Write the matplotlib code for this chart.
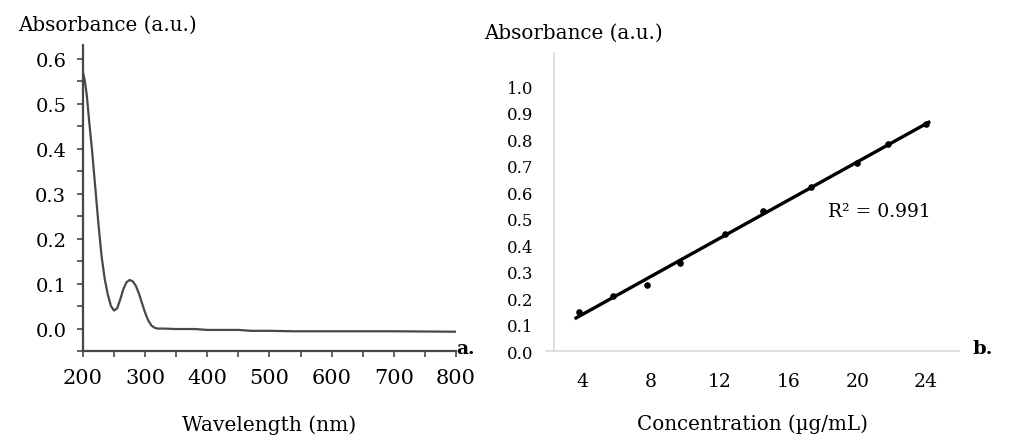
import numpy as np
import matplotlib
matplotlib.use("Agg")
from matplotlib import pyplot as plt
from matplotlib.ticker import MultipleLocator, FormatStrFormatter

# panel a: UV-vis spectrum
wavelength = [200, 203, 206, 210, 215, 220, 225, 230, 235, 240, 245, 250,
              255, 260, 265, 270, 275, 280, 285, 290, 295, 300, 305, 310,
              315, 320, 330, 350, 380, 400, 450, 470, 500, 540, 600, 700, 800]
absorbance = [0.57, 0.55, 0.52, 0.46, 0.39, 0.31, 0.23, 0.16, 0.11, 0.075,
              0.05, 0.04, 0.045, 0.065, 0.088, 0.103, 0.108, 0.105, 0.095,
              0.078, 0.056, 0.035, 0.018, 0.007, 0.002, 0.0, 0.0, -0.001,
              -0.001, -0.003, -0.003, -0.005, -0.005, -0.006, -0.006,
              -0.006, -0.007]

# panel b: calibration curve
concentration = [3.8, 5.8, 7.8, 9.7, 12.3, 14.5, 17.3, 20.0, 21.8, 24.0]
cal_absorbance = [0.146, 0.206, 0.248, 0.334, 0.442, 0.527, 0.620, 0.711,
                  0.780, 0.857]
r_squared = 0.991

plt.rcParams["font.family"] = ["DejaVu Serif"]
fig = plt.figure(figsize=(10.12, 4.39), dpi=100)

# ---- panel a ----
ax1 = fig.add_axes([0.082, 0.198, 0.3686, 0.697])
ax1.plot(wavelength, absorbance, color="#484848", lw=1.6)
ax1.set_xlim(200, 800)
ax1.set_ylim(-0.05, 0.63)
ax1.spines[["top", "right"]].set_visible(False)
for s in ["left", "bottom"]:
    ax1.spines[s].set_color("#484848")
    ax1.spines[s].set_linewidth(1.6)
ax1.xaxis.set_major_locator(MultipleLocator(100))
ax1.xaxis.set_minor_locator(MultipleLocator(50))
ax1.set_yticks([0.0, 0.1, 0.2, 0.3, 0.4, 0.5, 0.6])
ax1.yaxis.set_minor_locator(MultipleLocator(0.05))
ax1.yaxis.set_major_formatter(FormatStrFormatter("%.1f"))
ax1.tick_params(which="both", length=4, width=1.2, color="#484848")
ax1.tick_params(axis="y", labelsize=14, pad=8)
ax1.tick_params(axis="x", labelsize=15, pad=8)
fig.text(0.018, 0.943, "Absorbance (a.u.)", fontsize=14.3, ha="left",
         va="center")
ax1.set_xlabel("Wavelength (nm)", fontsize=14.5, labelpad=20)
fig.text(0.451, 0.206, "a.", fontsize=13.5, fontweight="bold", ha="left",
         va="center")

# ---- panel b ----
ax2 = fig.add_axes([0.5395, 0.198, 0.408, 0.679])
slope, intercept = np.polyfit(concentration, cal_absorbance, 1)
xfit = np.array([concentration[0] - 0.15, concentration[-1] + 0.15])
ax2.plot(xfit, slope * xfit + intercept, color="black", lw=2.4)
ax2.scatter(concentration, cal_absorbance, s=14, color="black", zorder=3)
ax2.set_xlim(1.9, 25.9)
ax2.set_ylim(0, 1.125)
ax2.spines[["top", "right"]].set_visible(False)
ax2.spines["left"].set_position(("data", 2.37))
for s in ["left", "bottom"]:
    ax2.spines[s].set_color("#d9d9d9")
    ax2.spines[s].set_linewidth(1.2)
ax2.set_xticks([4, 8, 12, 16, 20, 24])
ax2.set_yticks(np.arange(0, 1.01, 0.1))
ax2.yaxis.set_major_formatter(FormatStrFormatter("%.1f"))
ax2.tick_params(length=0)
ax2.tick_params(axis="y", labelsize=12, pad=15)
ax2.tick_params(axis="x", labelsize=13.5, pad=15)
ax2.text(18.3, 0.53, f"R² = {r_squared}", fontsize=13.5, ha="left",
         va="center")
fig.text(0.478, 0.925, "Absorbance (a.u.)", fontsize=14.3, ha="left",
         va="center")
ax2.set_xlabel("Concentration (µg/mL)", fontsize=14.3, labelpad=17)
fig.text(0.961, 0.205, "b.", fontsize=14, fontweight="bold", ha="left",
         va="center")

fig.savefig("out.png", dpi=100)
